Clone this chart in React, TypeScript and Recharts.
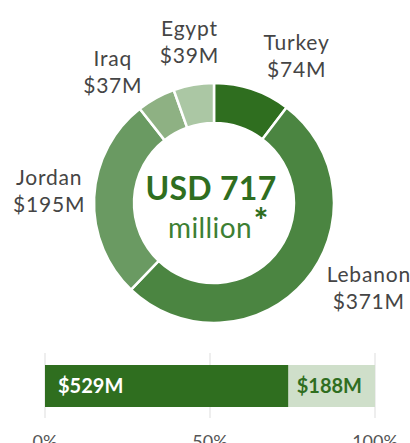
import { Bar, BarChart, CartesianGrid, Cell, LabelList, Pie, PieChart, XAxis, YAxis } from "recharts";

const countries = ["Turkey", "Lebanon", "Jordan", "Iraq", "Egypt"];
const funding = [74, 371, 195, 37, 39];
const sliceColors = ["#2f6e1f", "#4b8541", "#6a9a62", "#8eb183", "#abc7a4"];

const splitNames = ["received", "gap"];
const splitValues = [529, 188];
const splitTicks = ["0%", "50%", "100%"];

const TOTAL = 717;
const FONT = "Lato, 'Open Sans', sans-serif";
const RAD = Math.PI / 180;

// hand-tuned label nudges, keyed by slice name
const NUDGE: Record<string, [number, number]> = {
  Turkey: [29, 13],
  Egypt: [4, 5],
  Iraq: [-20, 17],
  Jordan: [3, -3],
  Lebanon: [27, -24],
};

const pieData = countries.map((name, i) => ({ name, value: funding[i] }));
const barData = [{ name: "total", received: splitValues[0], gap: splitValues[1] }];

function money(v: number) {
  return `$${v}M`;
}

function SliceLabel(props: any) {
  const { cx, cy, midAngle, name, value } = props;
  const r = 168;
  const [nx, ny] = NUDGE[name] || [0, 0];
  const x = cx + r * Math.cos(-midAngle * RAD) + nx;
  const y = cy + r * Math.sin(-midAngle * RAD) + ny;
  return (
    <text x={x} y={y} textAnchor="middle" fill="#454545" fontSize={21} letterSpacing={0.8} fontFamily={FONT}>
      <tspan x={x} y={y - 6.5}>{name}</tspan>
      <tspan x={x} y={y + 20.5}>{money(value)}</tspan>
    </text>
  );
}

export default function App() {
  const pcts = [0, TOTAL / 2, TOTAL];
  return (
    <div
      style={{
        position: "absolute",
        left: 0,
        top: 0,
        width: 410,
        height: 443,
        overflow: "hidden",
        background: "#fff",
        fontFamily: FONT,
      }}
    >
      <PieChart width={410} height={340}>
        <Pie
          data={pieData}
          dataKey="value"
          nameKey="name"
          cx={209}
          cy={198}
          innerRadius={80}
          outerRadius={120}
          startAngle={90}
          endAngle={-270}
          stroke="#fff"
          strokeWidth={2.5}
          label={SliceLabel}
          labelLine={false}
          isAnimationActive={false}
        >
          {pieData.map((d, i) => (
            <Cell key={d.name} fill={sliceColors[i]} />
          ))}
        </Pie>
        <text x={211} y={200} textAnchor="middle" fill="#2f6e1f" fontSize={32} fontWeight={700} letterSpacing={0.3} fontFamily={FONT}>
          USD 717
        </text>
        <text x={210} y={238} textAnchor="middle" fill="#3d7f33" fontSize={28} letterSpacing={0.4} fontFamily={FONT}>
          million
        </text>
        <text x={261} y={233} textAnchor="middle" fill="#2f6e1f" fontSize={34} fontWeight={900} fontFamily={FONT}>
          *
        </text>
      </PieChart>

      <div style={{ position: "absolute", left: 0, top: 340 }}>
        <BarChart
          width={410}
          height={120}
          data={barData}
          layout="vertical"
          margin={{ top: 13, right: 35, bottom: 0, left: 45 }}
        >
          <CartesianGrid horizontal={false} stroke="#dddddd" />
          <XAxis
            type="number"
            domain={[0, TOTAL]}
            ticks={pcts}
            tickFormatter={(_v: number, i: number) => splitTicks[i]}
            axisLine={false}
            tickLine={false}
            tickSize={0}
            tickMargin={17}
            height={42}
            tick={{ fill: "#555", fontSize: 18, fontFamily: FONT }}
          />
          <YAxis type="category" dataKey="name" hide />
          <Bar dataKey={splitNames[0]} stackId="a" fill="#2f6e1f" barSize={42} isAnimationActive={false}>
            <LabelList
              dataKey={splitNames[0]}
              position="insideLeft"
              offset={13}
              formatter={(v: any) => money(Number(v))}
              fill="#fff"
              fontSize={20}
              fontWeight={700}
              fontFamily={FONT}
            />
          </Bar>
          <Bar dataKey={splitNames[1]} stackId="a" fill="#cfdfca" barSize={42} isAnimationActive={false}>
            <LabelList
              dataKey={splitNames[1]}
              position="insideRight"
              offset={13}
              formatter={(v: any) => money(Number(v))}
              fill="#2f6e1f"
              fontSize={20}
              fontWeight={700}
              fontFamily={FONT}
            />
          </Bar>
        </BarChart>
      </div>
    </div>
  );
}
